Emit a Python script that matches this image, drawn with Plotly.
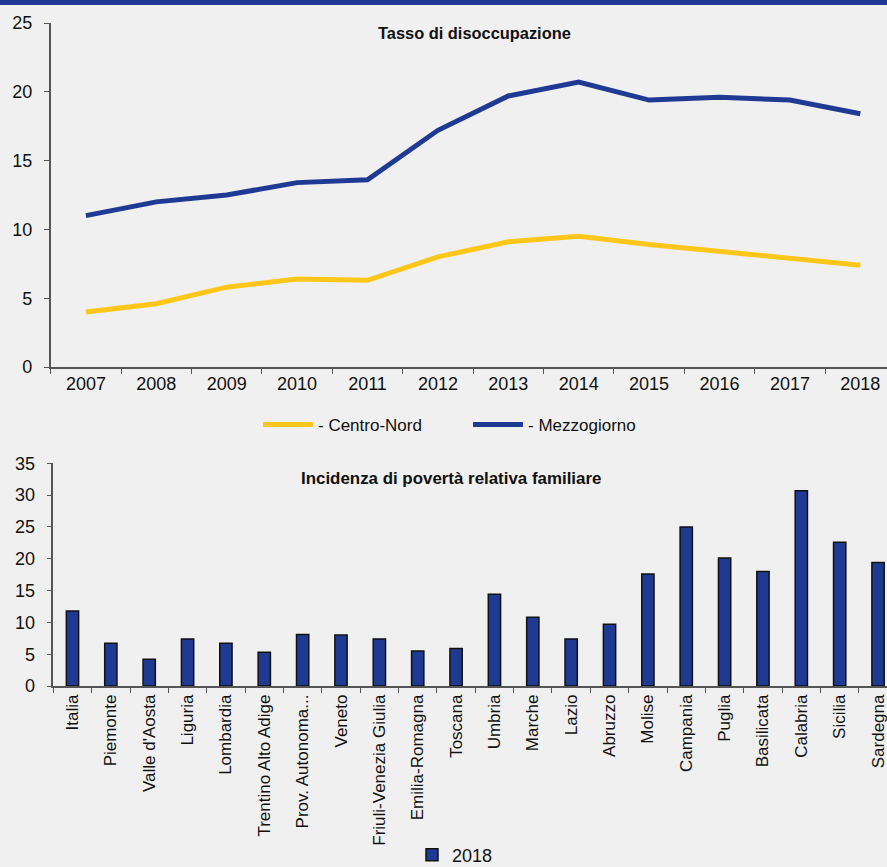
import plotly.graph_objects as go

years = ["2007", "2008", "2009", "2010", "2011", "2012", "2013", "2014", "2015", "2016", "2017", "2018"]
centro_nord = [4.0, 4.6, 5.8, 6.4, 6.3, 8.0, 9.1, 9.5, 8.9, 8.4, 7.9, 7.4]
mezzogiorno = [11.0, 12.0, 12.5, 13.4, 13.6, 17.2, 19.7, 20.7, 19.4, 19.6, 19.4, 18.4]

regions = ["Italia", "Piemonte", "Valle d'Aosta", "Liguria", "Lombardia", "Trentino Alto Adige",
           "Prov. Autonoma...", "Veneto", "Friuli-Venezia Giulia", "Emilia-Romagna", "Toscana",
           "Umbria", "Marche", "Lazio", "Abruzzo", "Molise", "Campania", "Puglia", "Basilicata",
           "Calabria", "Sicilia", "Sardegna"]
poverty_2018 = [11.8, 6.7, 4.2, 7.4, 6.7, 5.3, 8.1, 8.0, 7.4, 5.5, 5.9,
                14.4, 10.8, 7.4, 9.7, 17.6, 25.0, 20.1, 18.0, 30.7, 22.6, 19.4]

BLUE = "#1F3A93"
YELLOW = "#FFC61A"
BG = "#F0F0F0"
W, H = 887, 867
NARROW = "Liberation Sans Narrow, Arial Narrow, Liberation Sans, sans-serif"
REG = "Liberation Sans, Arial, sans-serif"

def py(p):
    return 1 - p / H

fig = go.Figure()
fig.add_trace(go.Scatter(x=years, y=centro_nord, mode="lines", name="- Centro-Nord",
                         line=dict(color=YELLOW, width=5), xaxis="x", yaxis="y", legend="legend"))
fig.add_trace(go.Scatter(x=years, y=mezzogiorno, mode="lines", name="- Mezzogiorno",
                         line=dict(color=BLUE, width=5), xaxis="x", yaxis="y", legend="legend"))
fig.add_trace(go.Bar(x=regions, y=poverty_2018, name="2018", width=0.32,
                     marker=dict(color=BLUE, line=dict(color="#111111", width=1.5)),
                     xaxis="x2", yaxis="y2", legend="legend2"))

axis_common = dict(showgrid=False, zeroline=False, showline=True, linecolor="#555555", linewidth=1.5,
                   ticks="outside", ticklen=5, tickcolor="#555555", tickwidth=1, automargin=False)

fig.update_layout(
    width=W, height=H,
    margin=dict(l=0, r=0, t=0, b=0, pad=0, autoexpand=False),
    paper_bgcolor=BG, plot_bgcolor=BG,
    showlegend=True,
    xaxis=dict(**axis_common, domain=[50.7 / W, 1], anchor="y", type="category",
               range=[-0.5, (W - 50.7) / 70.4 - 0.5], tickson="boundaries",
               tickfont=dict(family=REG, size=18, color="#111111")),
    yaxis=dict(**axis_common, domain=[py(367), py(23)], anchor="x", range=[0, 25], dtick=5,
               tickfont=dict(family=REG, size=18, color="#111111"), ticklabelstandoff=8),
    xaxis2=dict(**axis_common, domain=[53.3 / W, 1], anchor="y2", type="category",
                range=[-0.5, (W - 53.3) / 38.36 - 0.5], tickson="boundaries", tickangle=-90,
                tickfont=dict(family=REG, size=17, color="#111111")),
    yaxis2=dict(**axis_common, domain=[py(686), py(463.3)], anchor="x2", range=[0, 35], dtick=5,
                tickfont=dict(family=REG, size=18, color="#111111"), ticklabelstandoff=8),
    legend=dict(orientation="h", x=468 / W, xanchor="center", y=py(425), yanchor="middle",
                bgcolor="rgba(0,0,0,0)", font=dict(family=NARROW, size=17, color="#111111"),
                tracegroupgap=0, itemwidth=50, entrywidth=145),
    legend2=dict(orientation="h", x=455 / W, xanchor="center", y=py(855), yanchor="middle",
                 bgcolor="rgba(0,0,0,0)", font=dict(family=NARROW, size=18, color="#111111")),
    shapes=[dict(type="rect", xref="paper", yref="paper", x0=0, x1=1, y0=py(5), y1=1,
                 fillcolor=BLUE, line=dict(width=0))],
    annotations=[
        dict(text="<b>Tasso di disoccupazione</b>", xref="paper", yref="paper", x=475 / W, y=py(33),
             xanchor="center", yanchor="middle", showarrow=False,
             font=dict(family=NARROW, size=16.4, color="#111111")),
        dict(text="<b>Incidenza di povertà relativa familiare</b>", xref="paper", yref="paper",
             x=451 / W, y=py(478), xanchor="center", yanchor="middle", showarrow=False,
             font=dict(family=NARROW, size=16.9, color="#111111")),
    ],
)

fig.write_html("out.html", config={"displayModeBar": False},
               post_script="document.body.style.margin='0';document.body.style.padding='0';"
                           "document.body.style.overflow='hidden';")
